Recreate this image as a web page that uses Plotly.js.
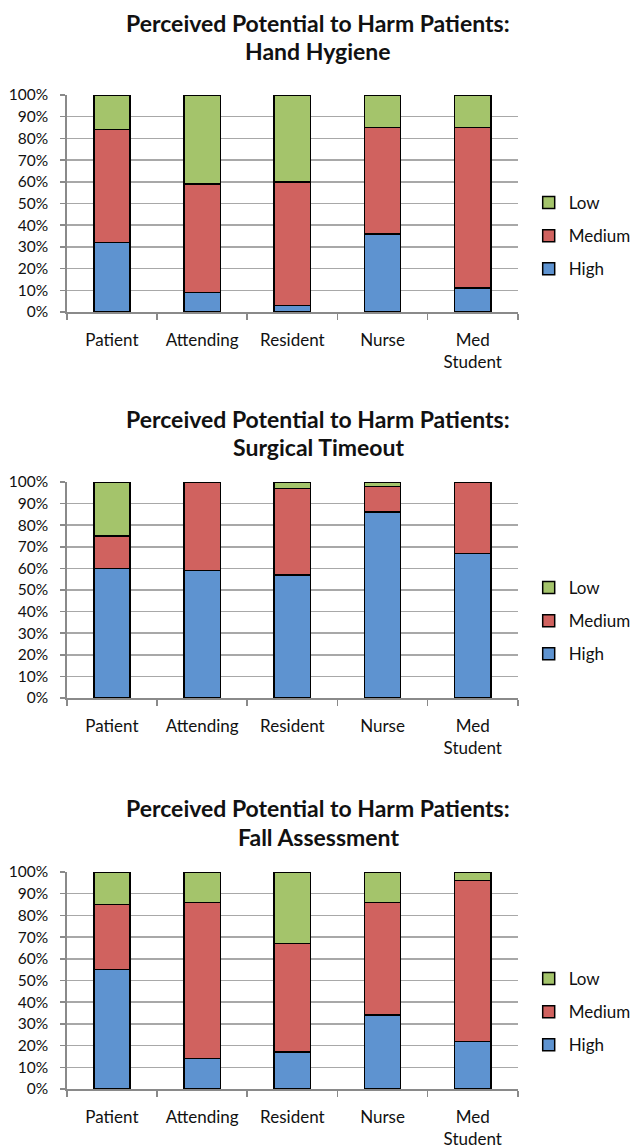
<!DOCTYPE html>
<html>
<head>
<meta charset="utf-8">
<script src="https://cdn.plot.ly/plotly-3.0.1.min.js"></script>
<style>html,body{margin:0;padding:0;background:#fff;}#chart{width:636px;height:1148px;}</style>
</head>
<body>
<div id="chart"></div>
<script>
// ---- Data ----
const categories = ['Patient', 'Attending', 'Resident', 'Nurse', 'Med<br>Student'];
const seriesNames = ['High', 'Medium', 'Low'];
const yTickVals = [0, 10, 20, 30, 40, 50, 60, 70, 80, 90, 100];
const yTickText = ['0%', '10%', '20%', '30%', '40%', '50%', '60%', '70%', '80%', '90%', '100%'];

const chartTitles = [
  ['Perceived Potential to Harm Patients:', 'Hand Hygiene'],
  ['Perceived Potential to Harm Patients:', 'Surgical Timeout'],
  ['Perceived Potential to Harm Patients:', 'Fall Assessment']
];

// Hand Hygiene
const handHigh   = [32, 9, 3, 36, 11];
const handMedium = [52, 50, 57, 49, 74];
const handLow    = [16, 41, 40, 15, 15];
// Surgical Timeout
const surgHigh   = [60, 59, 57, 86, 67];
const surgMedium = [15, 41, 40, 12, 33];
const surgLow    = [25, 0, 3, 2, 0];
// Fall Assessment
const fallHigh   = [55, 14, 17, 34, 22];
const fallMedium = [30, 72, 50, 52, 74];
const fallLow    = [15, 14, 33, 14, 4];

const chartData = [
  [handHigh, handMedium, handLow],
  [surgHigh, surgMedium, surgLow],
  [fallHigh, fallMedium, fallLow]
];

// ---- Styling ----
const W = 636, H = 1148;
const colors = ['#5E93D0', '#D0625F', '#A4C46B'];
const legendRanks = [3, 2, 1];
const FONT = 'Lato, "Open Sans", sans-serif';
const plotLeft = 68, plotRight = 527;
const plotTops = [95, 482, 872];
const plotBottoms = [312, 698, 1089];
const titleY = [[23, 51], [419, 447], [808, 837]];
const legendTopPx = [185, 570, 961];

const px2y = p => 1 - p / H;
const xDomain = [plotLeft / W, plotRight / W];

const traces = [];
const layout = {
  width: W, height: H,
  margin: {l: 0, r: 0, t: 0, b: 0},
  paper_bgcolor: '#ffffff', plot_bgcolor: '#ffffff',
  barmode: 'stack',
  bargap: 0.597,
  font: {family: FONT, color: '#111', size: 15},
  showlegend: true,
  annotations: []
};

chartData.forEach((series, ci) => {
  const n = ci === 0 ? '' : String(ci + 1);
  const xa = 'x' + n, ya = 'y' + n;
  const legName = 'legend' + n;
  series.forEach((vals, si) => {
    traces.push({
      type: 'bar',
      x: categories,
      y: vals,
      name: seriesNames[si],
      xaxis: xa, yaxis: ya,
      legend: legName,
      legendgroup: 'c' + ci + 's' + si,
      legendrank: legendRanks[si],
      marker: {color: colors[si], line: {color: '#000', width: 1.5}},
      hoverinfo: 'x+y+name'
    });
  });
  layout['xaxis' + n] = {
    domain: xDomain,
    anchor: ya,
    type: 'category',
    showline: true, linecolor: '#8a8a8a', linewidth: 1.5,
    ticks: 'outside', ticklen: 6, tickcolor: '#8a8a8a', tickwidth: 1.5,
    tickson: 'boundaries',
    showgrid: false,
    ticklabelstandoff: 12,
    tickfont: {family: FONT, size: 17, color: '#111'},
    fixedrange: true
  };
  layout['yaxis' + n] = {
    domain: [px2y(plotBottoms[ci]), px2y(plotTops[ci])],
    anchor: xa,
    range: [0, 100],
    tickvals: yTickVals, ticktext: yTickText,
    showline: true, linecolor: '#8a8a8a', linewidth: 1.5,
    ticks: 'outside', ticklen: 5, tickcolor: '#8a8a8a', tickwidth: 1.5,
    ticklabelstandoff: 9,
    showgrid: true, gridcolor: '#a8a8a8', gridwidth: 1.5,
    zeroline: false,
    tickfont: {family: FONT, size: 15.5, color: '#111'},
    fixedrange: true
  };
  layout[legName] = {
    x: 538 / W, xanchor: 'left',
    y: px2y(legendTopPx[ci]), yanchor: 'top',
    traceorder: 'grouped',
    tracegroupgap: 8,
    bgcolor: 'rgba(0,0,0,0)',
    font: {family: FONT, size: 17, color: '#111'},
    itemwidth: 30
  };
  chartTitles[ci].forEach((t, li) => {
    layout.annotations.push({
      text: '<b>' + t + '</b>',
      xref: 'paper', yref: 'paper',
      x: 324 / W, y: px2y(titleY[ci][li]),
      xanchor: 'center', yanchor: 'middle',
      showarrow: false,
      font: {family: FONT, size: 23, color: '#111'}
    });
  });
});

Plotly.newPlot('chart', traces, layout, {displayModeBar: false, staticPlot: true});
</script>
</body>
</html>
